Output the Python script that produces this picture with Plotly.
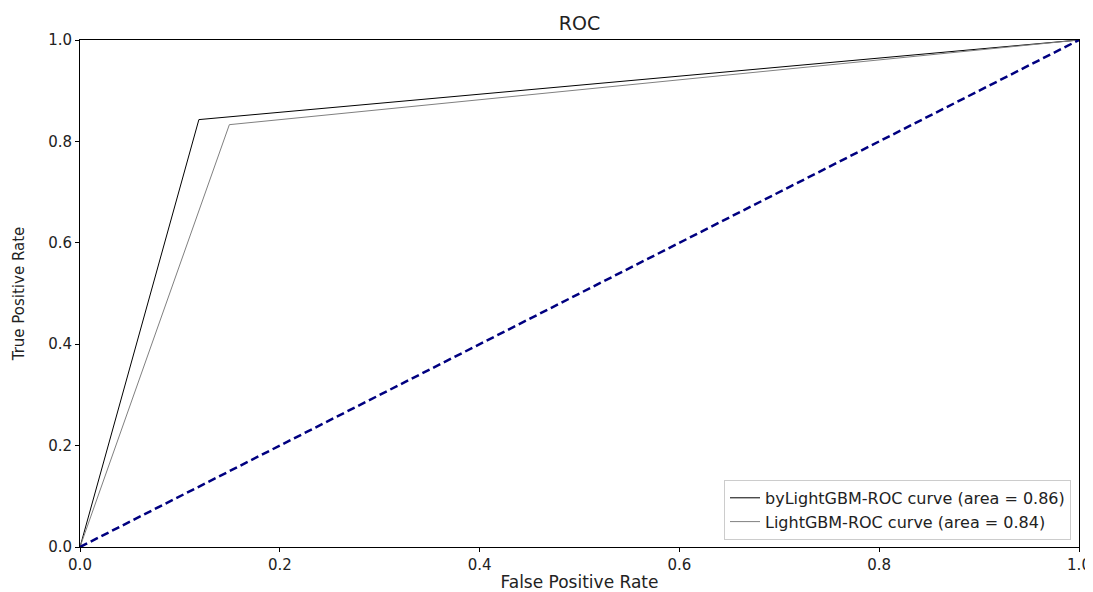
import plotly.graph_objects as go

fpr_by = [0.0, 0.119, 1.0]
tpr_by = [0.0, 0.843, 1.0]
fpr_lg = [0.0, 0.1495, 1.0]
tpr_lg = [0.0, 0.833, 1.0]
diag_x = [0.0, 1.0]
diag_y = [0.0, 1.0]
name_by = "byLightGBM-ROC curve (area = 0.86)"
name_lg = "LightGBM-ROC curve (area = 0.84)"
tick_vals = [0.0, 0.2, 0.4, 0.6, 0.8, 1.0]

fig = go.Figure()
fig.add_trace(go.Scatter(x=fpr_by, y=tpr_by, mode="lines", name=name_by,
                         line=dict(color="black", width=1)))
fig.add_trace(go.Scatter(x=fpr_lg, y=tpr_lg, mode="lines", name=name_lg,
                         line=dict(color="grey", width=1)))
fig.add_trace(go.Scatter(x=diag_x, y=diag_y, mode="lines", showlegend=False,
                         line=dict(color="navy", width=2.5, dash="8px,4px")))

axis_common = dict(range=[0, 1], tickvals=tick_vals, tickformat=".1f",
                   showgrid=False, zeroline=False, showline=True, mirror=True,
                   linecolor="black", linewidth=1, ticks="outside", ticklen=4,
                   tickcolor="black", tickfont=dict(size=15, color="#222"),
                   automargin=False, ticklabeloverflow="allow")
fig.update_xaxes(title=dict(text="False Positive Rate", font=dict(size=17), standoff=6), **axis_common)
fig.update_yaxes(title=dict(text="True Positive Rate", font=dict(size=15), standoff=19), **axis_common)

fig.update_layout(
    width=1085, height=584,
    margin=dict(l=72, r=14, t=32, b=45),
    paper_bgcolor="white", plot_bgcolor="white",
    font=dict(family="DejaVu Sans", size=15, color="#222"),
    title=dict(text="ROC", x=0.5, xanchor="center", y=0.973, yanchor="middle",
               font=dict(size=19, color="#222"), xref="paper"),
    legend=dict(x=0.992, y=0.014, xanchor="right", yanchor="bottom",
                bordercolor="#cccccc", borderwidth=1, bgcolor="rgba(255,255,255,0.8)",
                font=dict(size=16), tracegroupgap=0),
)

fig.write_html("out.html")
